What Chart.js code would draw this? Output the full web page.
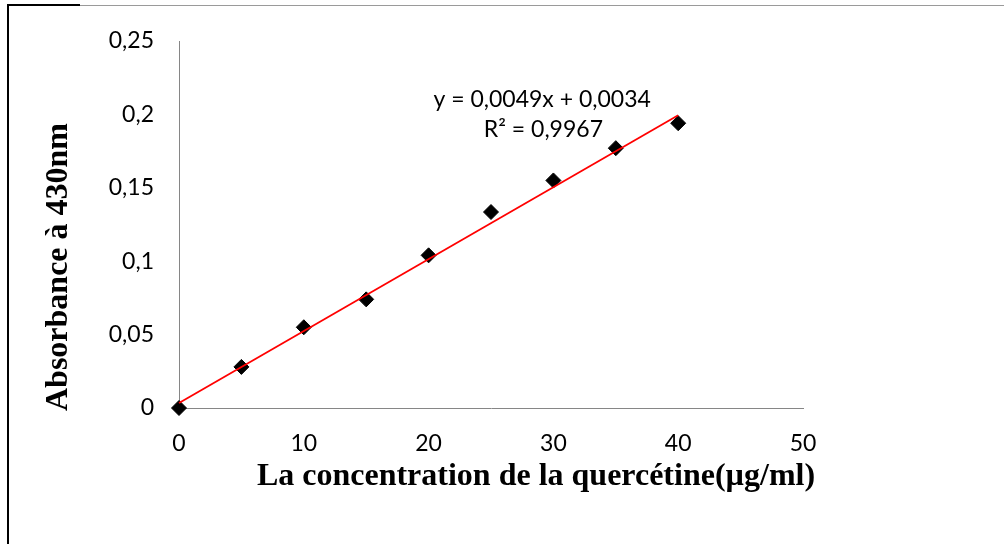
<!DOCTYPE html>
<html>
<head>
<meta charset="utf-8">
<script src="https://cdn.jsdelivr.net/npm/chart.js@4"></script>
<style>
  html, body { margin: 0; padding: 0; background: #fff; }
  #wrap { width: 1004px; height: 544px; position: relative; }
</style>
</head>
<body>
<div id="wrap"><canvas id="calib" width="1004" height="544"></canvas></div>
<script>
// Concentrations (µg/ml) and measured absorbance at 430 nm
const concentrations = [0, 5, 10, 15, 20, 25, 30, 35, 40];
const absorbances = [0.000, 0.028, 0.055, 0.074, 0.104, 0.1335, 0.155, 0.177, 0.194];

// Linear trendline end points (y = 0,0049x + 0,0034)
const trendX = [0, 40];
const trendY = [0.0034, 0.1994];

const yTickLabels = ['0', '0,05', '0,1', '0,15', '0,2', '0,25'];
const xTickLabels = ['0', '10', '20', '30', '40', '50'];
const equationLines = ['y = 0,0049x + 0,0034', 'R\u00B2 = 0,9967'];
const xTitle = 'La concentration de la querc\u00E9tine(\u00B5g/ml)';
const yTitle = 'Absorbance \u00E0 430nm';

const tickFont = { family: 'Lato, "Open Sans", sans-serif', size: 23 };
const axisGray = '#868686';

// Frame, axis titles and equation label drawn on top of the chart
const extras = {
    id: 'extras',
    afterDraw(chart) {
        const ctx = chart.ctx;
        const xs = chart.scales.x, ys = chart.scales.y;
        ctx.save();

        // outer frame (top + left edges)
        ctx.strokeStyle = '#9a9a9a';
        ctx.lineWidth = 1;
        ctx.beginPath(); ctx.moveTo(80, 5.5); ctx.lineTo(1004, 5.5); ctx.stroke();
        ctx.strokeStyle = '#000';
        ctx.lineWidth = 2;
        ctx.beginPath(); ctx.moveTo(80, 5); ctx.lineTo(8, 5); ctx.lineTo(8, 544); ctx.stroke();

        // axis titles
        ctx.fillStyle = '#000';
        ctx.font = 'bold 32px "Liberation Serif", "Times New Roman", serif';
        ctx.textAlign = 'center';
        ctx.textBaseline = 'middle';
        ctx.fillText(xTitle, 536, 477);
        ctx.save();
        ctx.translate(59, 267);
        ctx.rotate(-Math.PI / 2);
        ctx.fillText(yTitle, 0, 0);
        ctx.restore();

        // trendline equation
        ctx.font = '23px Lato, "Open Sans", sans-serif';
        ctx.fillText(equationLines[0], xs.getPixelForValue(29.1), ys.getPixelForValue(0.2098));
        ctx.fillText(equationLines[1], xs.getPixelForValue(29.2), ys.getPixelForValue(0.1894));
        ctx.restore();
    }
};

new Chart(document.getElementById('calib'), {
    type: 'scatter',
    data: {
        datasets: [
            {
                label: 'Trendline',
                type: 'line',
                data: trendX.map((x, i) => ({ x: x, y: trendY[i] })),
                borderColor: '#ff0000',
                borderWidth: 1.8,
                pointRadius: 0,
                fill: false,
                clip: false,
                order: 0
            },
            {
                label: 'Absorbance',
                data: concentrations.map((c, i) => ({ x: c, y: absorbances[i] })),
                pointStyle: 'rectRot',
                pointRadius: 7.5,
                backgroundColor: '#000',
                borderColor: '#000',
                borderWidth: 1,
                clip: false,
                order: 1
            }
        ]
    },
    options: {
        responsive: false,
        animation: false,
        layout: { padding: { left: 0, top: 41, right: 201, bottom: 0 } },
        plugins: { legend: { display: false }, tooltip: { enabled: false } },
        scales: {
            x: {
                type: 'linear',
                min: 0,
                max: 50,
                afterFit: s => { s.height = 136; },
                afterBuildTicks: s => { s.ticks = xTickLabels.map((_, i) => ({ value: i * 10 })); },
                grid: { display: false, drawTicks: true, tickLength: 8, tickColor: axisGray },
                border: { color: axisGray, width: 1 },
                ticks: {
                    font: tickFont,
                    color: '#000',
                    padding: 14,
                    callback: (v, i) => xTickLabels[i]
                }
            },
            y: {
                type: 'linear',
                min: 0,
                max: 0.25,
                afterFit: s => { s.width = 179; },
                afterBuildTicks: s => { s.ticks = yTickLabels.map((_, i) => ({ value: i * 0.05 })); },
                grid: { display: false, drawTicks: true, tickLength: 8, tickColor: axisGray },
                border: { color: axisGray, width: 1 },
                ticks: {
                    font: tickFont,
                    color: '#000',
                    padding: 17,
                    callback: (v, i) => yTickLabels[i]
                }
            }
        }
    },
    plugins: [extras]
});
</script>
</body>
</html>
